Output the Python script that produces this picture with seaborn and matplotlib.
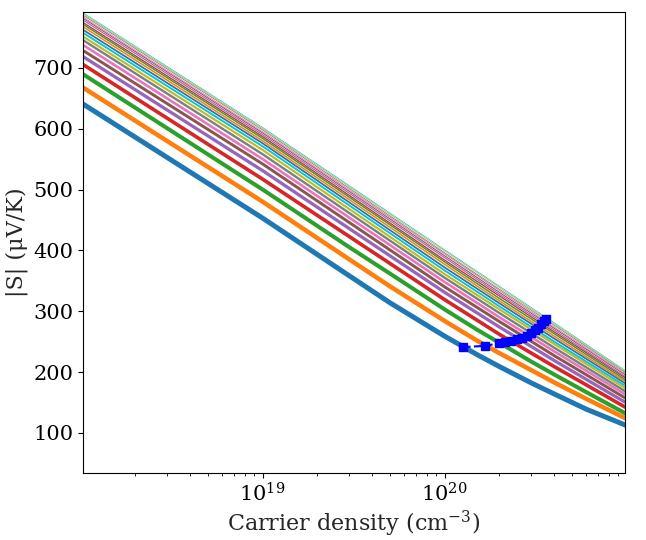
import numpy as np
import pandas as pd
import matplotlib
matplotlib.use("Agg")
import matplotlib.pyplot as plt
import seaborn as sns

# ==================== data ====================
# bottom three curves, read on a finer grid (they bend at high density)
density_fine = [1e18, 1e19, 3e19, 5e19, 1e20, 1.5e20, 2e20, 3e20, 4e20, 6e20, 1e21]
seebeck_low = [
    [643, 453, 358, 314, 259, 229, 209, 182, 164, 139, 112],
    [670, 480, 385, 341, 284, 252, 231, 203, 183, 156, 123],
    [692, 500, 405, 362, 303, 270, 248, 217, 196, 167, 131],
]

# remaining curves (nearly straight), carrier density in cm^-3, |S| in uV/K
density = [1e18, 1e19, 1e20, 2e20, 4e20, 1e21]
seebeck_curves = [
    [708, 517, 319, 262, 209, 141],
    [721, 531, 331, 274, 219, 149],
    [731, 542, 340, 283, 227, 156],
    [740, 550, 348, 290, 234, 162],
    [748, 558, 355, 297, 240, 167],
    [754, 565, 361, 303, 246, 172],
    [760, 571, 367, 308, 250, 176],
    [765, 576, 372, 313, 255, 180],
    [770, 580, 377, 317, 259, 183],
    [774, 584, 381, 321, 263, 186],
    [777, 587, 384, 325, 266, 189],
    [781, 590, 388, 328, 269, 191],
    [784, 593, 391, 331, 272, 194],
    [786, 595, 394, 334, 274, 196],
    [789, 598, 396, 336, 277, 198],
    [791, 600, 399, 339, 279, 199],
    [793, 602, 401, 341, 281, 201],
]

# measured points
meas_n = [1.26e20, 1.66e20, 1.98e20, 2.14e20, 2.31e20, 2.49e20, 2.65e20,
          2.82e20, 2.97e20, 3.13e20, 3.25e20, 3.37e20, 3.50e20, 3.59e20]
meas_S = [241, 243, 247, 250, 251, 254, 256, 259, 264, 269, 273, 279, 284, 288]

# ==================== style ====================
sns.set_style("ticks", {"axes.edgecolor": "black",
                        "xtick.color": "black", "ytick.color": "black"})
plt.rcParams['font.family'] = ['DejaVu Serif']
plt.rcParams['mathtext.fontset'] = 'dejavuserif'

palette = sns.color_palette("tab10", 10)

fig = plt.figure(figsize=(6.46, 5.40), dpi=100)
ax = fig.add_axes([0.1285, 0.124, 0.839, 0.854])

curves = [(density_fine, S) for S in seebeck_low] + [(density, S) for S in seebeck_curves]
for i, (n, S) in enumerate(curves):
    df = pd.DataFrame({'n': n, 'S': S})
    sns.lineplot(data=df, x='n', y='S', ax=ax, color=palette[i % 10],
                 linewidth=3.6 * 0.9 ** i, estimator=None, sort=False)

ax.plot(meas_n, meas_S, 'bs--', markersize=6)

ax.set_xscale('log')
ax.set_xlim(1.03e18, 9.8e20)
ax.set_ylim(34, 792)
ax.set_yticks([100, 200, 300, 400, 500, 600, 700])
ax.tick_params(labelsize=15)
ax.set_xlabel('Carrier density (cm$^{-3}$)', fontsize=16, labelpad=2)
ax.set_ylabel('|S| (μV/K)', fontsize=16)

plt.savefig('out.png', dpi=100)
